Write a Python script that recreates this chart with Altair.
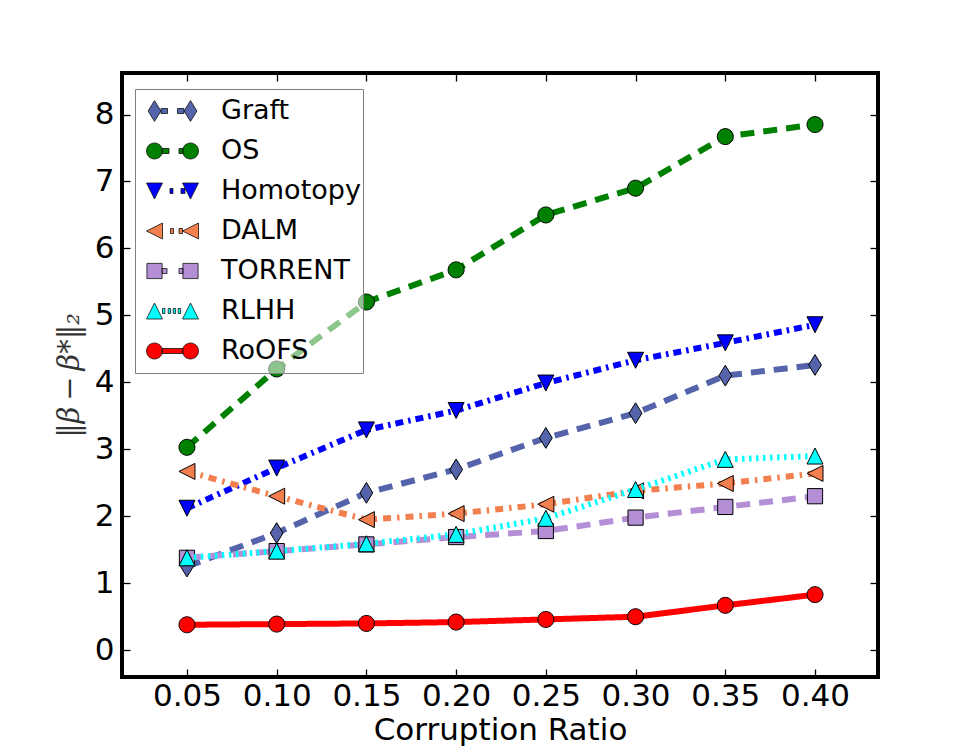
import altair as alt
import pandas as pd

# ---- data -------------------------------------------------------------
ratios = [0.05, 0.10, 0.15, 0.20, 0.25, 0.30, 0.35, 0.40]
methods = ["Graft", "OS", "Homotopy", "DALM", "TORRENT", "RLHH", "RoOFS"]

graft = [1.25, 1.75, 2.35, 2.70, 3.17, 3.54, 4.10, 4.26]
os_err = [3.03, 4.20, 5.20, 5.68, 6.50, 6.90, 7.67, 7.85]
homotopy = [2.12, 2.72, 3.29, 3.58, 3.99, 4.33, 4.59, 4.86]
dalm = [2.67, 2.30, 1.95, 2.04, 2.18, 2.38, 2.49, 2.64]
torrent = [1.38, 1.48, 1.58, 1.69, 1.78, 1.98, 2.14, 2.30]
rlhh = [1.38, 1.48, 1.59, 1.73, 1.97, 2.40, 2.85, 2.90]
roofs = [0.38, 0.39, 0.40, 0.42, 0.46, 0.50, 0.67, 0.83]

x_ticks = ratios
y_ticks = [0, 1, 2, 3, 4, 5, 6, 7, 8]

series = [graft, os_err, homotopy, dalm, torrent, rlhh, roofs]
df = pd.DataFrame(
    [
        {"method": m, "ratio": r, "value": v}
        for m, vals in zip(methods, series)
        for r, v in zip(ratios, vals)
    ]
)

# ---- styles -----------------------------------------------------------
colors = ["#5463AA", "#008000", "#0000FF", "#F27F4D", "#B48FD6", "#00FFFF", "#FF0000"]
dashes = [[14, 9], [14, 9], [8, 5, 2.5, 5], [8, 6, 2.5, 6], [14, 9], [2.5, 4.5], [1, 0]]
line_width = 6

# marker outlines in marker units (1 unit = marker_px)
marker_polys = {
    "diamond": [(0, -1.3), (0.8, 0), (0, 1.3), (-0.8, 0)],
    "tri_down": [(-1, -1), (1, -1), (0, 1)],
    "tri_left": [(1, -1), (1, 1), (-1, 0)],
    "square": [(-0.95, -0.95), (0.95, -0.95), (0.95, 0.95), (-0.95, 0.95)],
    "tri_up": [(-1, 1), (1, 1), (0, -1)],
}
markers = ["diamond", "circle", "tri_down", "tri_left", "square", "tri_up", "circle"]
marker_px = 8.0

# legend line pieces between the two markers (px from the symbol centre)
legend_pieces = [
    [(-11.5, -5), (5, 11.5)],
    [(-10.5, -3.5), (6.5, 10.5)],
    [(-2.5, 0.5), (8.5, 12.5)],
    [(-2, 1), (6.5, 10)],
    [(-10.5, -5.5), (6.5, 10.5)],
    [(-10, -7.6), (-4.3, -1.9), (0.7, 3.1), (5.7, 8.1)],
    [(-10.5, 10.5)],
]
legend_half = 26.0       # half width of a legend symbol in px
legend_marker_at = 18.0  # marker centre offset in px
legend_line = 5.0        # thickness of the legend line pieces


def marker_path(kind, cx=0.0, k=1.0):
    if kind == "circle":
        return (f"M{cx + k:.4f},0A{k:.4f},{k:.4f},0,1,1,{cx - k:.4f},0"
                f"A{k:.4f},{k:.4f},0,1,1,{cx + k:.4f},0Z")
    pts = marker_polys[kind]
    return "M" + "L".join(f"{cx + x * k:.4f},{y * k:.4f}" for x, y in pts) + "Z"


def legend_path(kind, pieces):
    k = marker_px / legend_half
    c = legend_marker_at / legend_half
    h = (legend_line / 2) / legend_half
    parts = []
    for x0, x1 in pieces:
        a, b = x0 / legend_half, x1 / legend_half
        parts.append(f"M{a:.4f},{-h:.4f}L{b:.4f},{-h:.4f}L{b:.4f},{h:.4f}L{a:.4f},{h:.4f}Z")
    parts.append(marker_path(kind, -c, k))
    parts.append(marker_path(kind, c, k))
    return "".join(parts)


legend_paths = [legend_path(m, p) for m, p in zip(markers, legend_pieces)]

# ---- scales & axes ----------------------------------------------------
x_scale = alt.Scale(domain=[0.0138, 0.4351], nice=False, zero=False)
y_scale = alt.Scale(domain=[-0.40, 8.62], nice=False, zero=False)
color_scale = alt.Scale(domain=methods, range=colors)

tick_len = 8
common_axis = dict(
    domain=False, grid=False, ticks=True, tickSize=tick_len, offset=-tick_len,
    tickColor="black", tickWidth=1.3,
)
x_axis = alt.Axis(
    orient="bottom", values=x_ticks, format=".2f", labelPadding=4,
    labelFontSize=31, labelFont="DejaVu Sans", labelColor="black",
    title="Corruption Ratio", titleFontSize=31, titleFont="DejaVu Sans",
    titleFontWeight="normal", titleColor="black", titlePadding=4,
    **common_axis,
)
y_axis = alt.Axis(
    orient="left", values=y_ticks, format="d", labelPadding=8,
    labelFontSize=31, labelFont="DejaVu Sans", labelColor="black",
    title="‖β\u2009−\u2009β*‖₂", titleFontSize=29, titleFont="DejaVu Serif",
    titleFontStyle="italic", titleFontWeight="normal", titleColor="#333333",
    titlePadding=10, **common_axis,
)
x_top = alt.Axis(orient="top", values=x_ticks, labels=False, title=None, **common_axis)
y_right = alt.Axis(orient="right", values=y_ticks, labels=False, title=None, **common_axis)


def pos(xa=None, ya=None):
    return dict(
        x=alt.X("ratio:Q", scale=x_scale, axis=xa),
        y=alt.Y("value:Q", scale=y_scale, axis=ya),
    )


legend = alt.Legend(
    orient="none", legendX=13, legendY=16, title=None,
    fillColor="rgba(255,255,255,0.55)", strokeColor="#7f7f7f",
    padding=2, rowPadding=0, clipHeight=40,
    symbolSize=(2 * legend_half) ** 2, symbolStrokeWidth=0.8,
    symbolOpacity=1, symbolOffset=9, labelOffset=22,
    labelFontSize=27, labelFont="DejaVu Sans", labelColor="black", labelLimit=0,
)

layers = []
for i, (m, col, kind, dash) in enumerate(zip(methods, colors, markers, dashes)):
    sub = alt.Chart(df).transform_filter(alt.datum.method == m)
    first = i == 0
    line = sub.mark_line(
        color=col, strokeWidth=line_width, strokeDash=dash, strokeCap="butt"
    ).encode(**pos(x_axis if first else None, y_axis if first else None))
    pts = sub.mark_point(
        shape=marker_path(kind), size=(2 * marker_px) ** 2, filled=True,
        fill=col, opacity=1, stroke="black", strokeWidth=1,
    ).encode(**pos())
    layers += [line, pts]

# legend entries (no marks drawn) plus the inward ticks on the top/right edges
legend_layer = alt.Chart(df).transform_filter("false").mark_point(
    filled=True, opacity=1, strokeWidth=0.8,
).encode(
    color=alt.Color("method:N", scale=color_scale, legend=legend),
    shape=alt.Shape("method:N", scale=alt.Scale(domain=methods, range=legend_paths), legend=legend),
    stroke=alt.Stroke("method:N", scale=alt.Scale(domain=methods, range=["#111111"] * len(methods)), legend=legend),
    **pos(x_top, y_right),
)
layers.append(legend_layer)

chart = (
    alt.layer(*layers)
    .resolve_axis(x="independent", y="independent")
    .properties(
        width=756, height=604,
        autosize=alt.AutoSizeParams(type="none"),
        padding={"left": 122, "top": 73, "right": 97, "bottom": 73},
    )
    .configure_view(stroke="black", strokeWidth=4)
)

chart.save("out.html", embed_options={"renderer": "svg", "actions": False})
